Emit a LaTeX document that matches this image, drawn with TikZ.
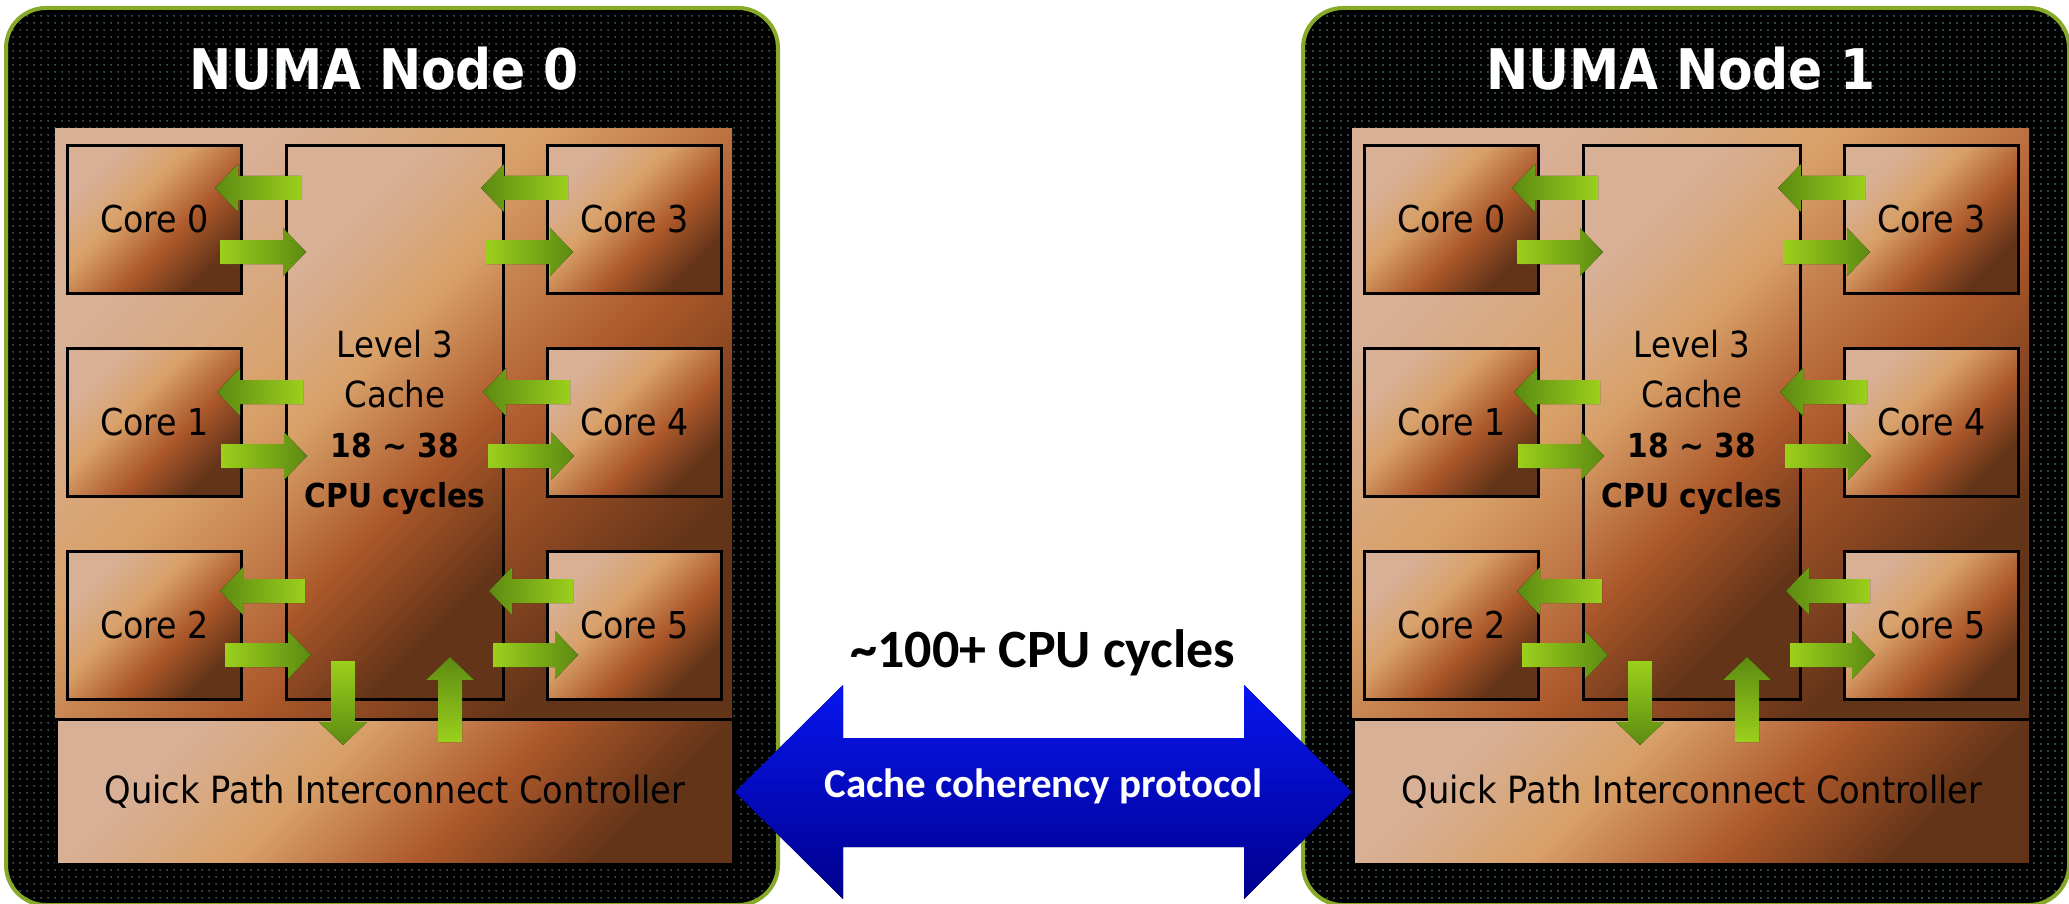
\documentclass[tikz,border=0pt]{standalone}
\usepackage{fontspec}
\usetikzlibrary{patterns.meta,calc}
\newfontfamily\tah[FakeStretch=0.9]{DejaVu Sans}
\newfontfamily\calfont{Carlito}
\definecolor{cupink}{RGB}{216,176,150}
\definecolor{cutan}{RGB}{216,160,104}
\definecolor{curust}{RGB}{172,88,42}
\definecolor{cudark}{RGB}{100,52,24}
\definecolor{glight}{RGB}{155,208,28}
\definecolor{gdark}{RGB}{92,138,18}
\definecolor{bluetop}{RGB}{8,22,240}
\definecolor{bluebot}{RGB}{0,0,140}
\definecolor{rim}{RGB}{135,170,40}
\definecolor{dotc}{RGB}{100,140,140}
\pgfdeclareverticalshading{copper}{100bp}{color(0bp)=(cudark); color(27bp)=(cudark); color(42bp)=(curust); color(58bp)=(cutan); color(73bp)=(cupink); color(100bp)=(cupink)}
\tikzset{
  outerbox/.style={draw=rim, line width=4pt, rounded corners=40pt, preaction={fill=black},
    pattern={Dots[distance=6.5pt,radius=0.85pt]}, pattern color=dotc, anchor=north west, inner sep=0pt},
  copperbox/.style={shading=copper, shading angle=45, anchor=north west, inner sep=0pt},
  panel/.style={copperbox},
  qpibox/.style={copperbox, draw=black, line width=3pt, font=\tah\fontsize{37.5}{44}\selectfont},
  corebox/.style={copperbox, draw=black, line width=3pt, minimum width=174pt, minimum height=148pt,
    font=\tah\fontsize{37}{44}\selectfont},
  cachebox/.style={copperbox, draw=black, line width=3pt, minimum width=217pt, minimum height=554pt,
    align=center, font=\tah\fontsize{36}{50}\selectfont},
  titletext/.style={text=white, font=\tah\bfseries\fontsize{56}{62}\selectfont},
  latency/.style={font=\calfont\bfseries\fontsize{54}{60}\selectfont},
  protocol/.style={text=white, font=\calfont\bfseries\fontsize{41}{48}\selectfont},
  bigarrow/.style={top color=bluetop, bottom color=bluebot},
}
\newcommand\garL[3]{%
  \fill[left color=gdark,right color=glight] (#1,#3-12) -- (#2+23,#3-12) -- (#2+23,#3-24) -- (#2,#3) -- (#2+23,#3+24) -- (#2+23,#3+12) -- (#1,#3+12) -- cycle;}
\newcommand\garR[3]{%
  \fill[left color=glight,right color=gdark] (#1,#3-12) -- (#2-23,#3-12) -- (#2-23,#3-24) -- (#2,#3) -- (#2-23,#3+24) -- (#2-23,#3+12) -- (#1,#3+12) -- cycle;}
\newcommand\garD[3]{%
  \fill[top color=glight,bottom color=gdark] (#1-12,#2) -- (#1-12,#3-23) -- (#1-24,#3-23) -- (#1,#3) -- (#1+24,#3-23) -- (#1+12,#3-23) -- (#1+12,#2) -- cycle;}
\newcommand\garU[3]{%
  \fill[top color=gdark,bottom color=glight] (#1-12,#2) -- (#1-12,#3+23) -- (#1-24,#3+23) -- (#1,#3) -- (#1+24,#3+23) -- (#1+12,#3+23) -- (#1+12,#2) -- cycle;}
\newcommand\numanode[4]{%
  \begin{scope}[xshift=#2]
    \node[outerbox, minimum width=#4, minimum height=897pt] (#1box) at (4,6) {};
    \node[titletext] (#1title) at (384,69) {#3};
    \node[panel, minimum width=677pt, minimum height=590pt] (#1panel) at (55,128) {};
    \node[qpibox, minimum width=677pt, minimum height=145pt] (#1qpi) at (55,718) {Quick Path Interconnect Controller};
    \node[corebox] (#1core0) at (66,144) {Core 0};
    \node[corebox] (#1core1) at (66,347) {Core 1};
    \node[corebox] (#1core2) at (66,550) {Core 2};
    \node[corebox] (#1core3) at (546,144) {Core 3};
    \node[corebox] (#1core4) at (546,347) {Core 4};
    \node[corebox] (#1core5) at (546,550) {Core 5};
    \node[cachebox] (#1cache) at (285,144) {Level 3\\Cache\\{\bfseries\fontsize{33}{50}\selectfont 18 \textasciitilde{} 38}\\{\bfseries\fontsize{33}{50}\selectfont CPU cycles}};
    \garL{301}{215}{188} \garR{220}{306}{252}
    \garL{303}{217}{392} \garR{221}{307}{456}
    \garL{305}{220}{591} \garR{225}{311}{655}
    \garL{568}{481}{188} \garR{486}{573}{252}
    \garL{570}{483}{392} \garR{488}{574}{456}
    \garL{573}{489}{591} \garR{493}{578}{655}
    \garD{343}{661}{745}
    \garU{450}{742}{657}
  \end{scope}}
\begin{document}
\begin{tikzpicture}[x=1pt,y=-1pt]
  \useasboundingbox (0,0) rectangle (2069,904);
  \numanode{L}{0pt}{NUMA Node 0}{772pt}
  \numanode{R}{1297pt}{NUMA Node 1}{766pt}
  \fill[bigarrow] let \p1=(Lqpi.east), \p2=(Rqpi.west) in
    (\x1,\y1) -- (\x1+108pt,\y1+107pt) -- (\x1+108pt,\y1+54pt) -- (\x2-108pt,\y1+54pt)
    -- (\x2-108pt,\y1+107pt) -- (\x2,\y2) -- (\x2-108pt,\y1-107pt) -- (\x2-108pt,\y1-55pt)
    -- (\x1+108pt,\y1-55pt) -- (\x1+108pt,\y1-107pt) -- cycle;
  \node[latency] (lat) at (1043,653) {\textasciitilde100+ CPU cycles};
  \node[protocol] (proto) at ($(Lqpi.east)!0.5!(Rqpi.west)+(0,-6)$) {Cache coherency protocol};
\end{tikzpicture}
\end{document}
